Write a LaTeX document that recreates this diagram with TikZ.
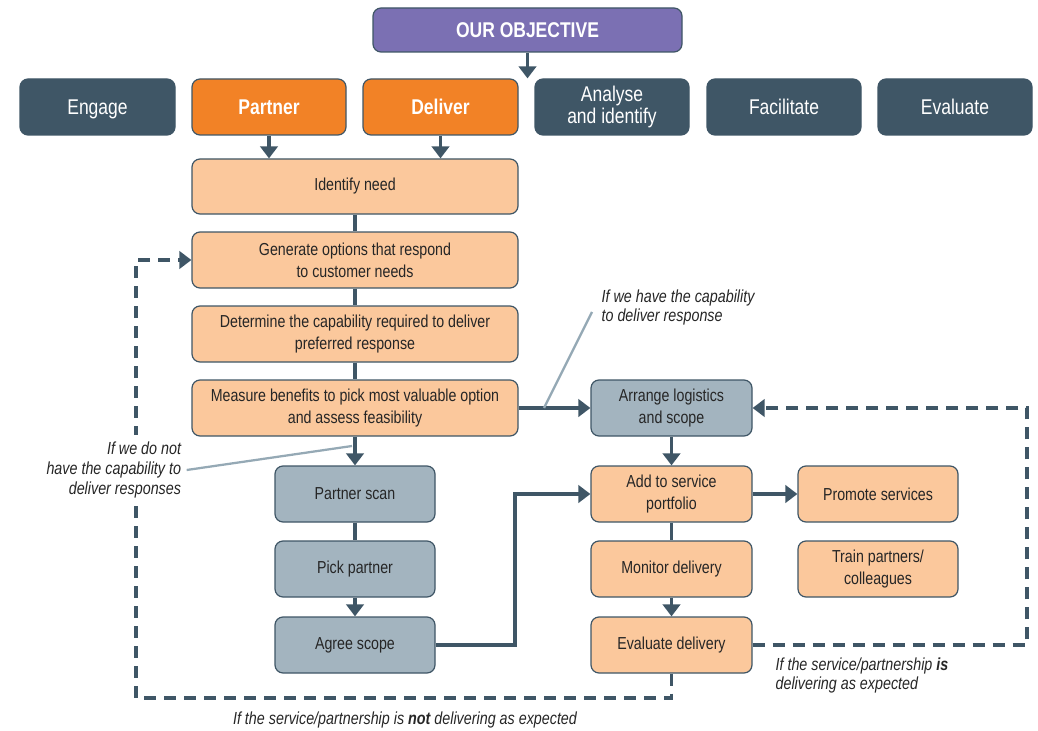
\documentclass[tikz,border=0pt]{standalone}
\usepackage{fontspec}
\setmainfont{Liberation Sans}[FakeStretch=0.82]
\usetikzlibrary{arrows.meta}
\definecolor{slate}{HTML}{3F5666}
\definecolor{purp}{HTML}{7B70B3}
\definecolor{orng}{HTML}{F28226}
\definecolor{peach}{HTML}{FBC89C}
\definecolor{greyb}{HTML}{A3B4BF}
\definecolor{lead}{HTML}{95A9B5}
\definecolor{txt}{HTML}{262626}
\tikzset{
  base/.style={rounded corners=6pt, draw=slate, line width=0.9pt, align=center, inner sep=0pt},
  objbox/.style={base, fill=purp, text=white, font=\fontsize{16}{18}\selectfont\bfseries},
  hdr/.style={base, fill=slate, text=white, font=\fontsize{16}{17}\selectfont},
  hdro/.style={base, fill=orng, text=white, font=\fontsize{16}{17}\selectfont\bfseries},
  pe/.style={base, fill=peach, text=txt, font=\fontsize{13}{16.5}\selectfont},
  gr/.style={base, fill=greyb, text=txt, font=\fontsize{13}{16.5}\selectfont},
  conn/.style={draw=slate, line width=2.4pt},
  arr/.style={conn, -{Triangle[width=13pt,length=9pt]}},
  dsh/.style={dash pattern=on 9pt off 6pt},
  leadl/.style={draw=lead, line width=1.7pt},
  lbl/.style={text=txt, font=\fontsize{13.1}{14.8}\selectfont\itshape, inner sep=1pt},
}
\newcommand\bx[7]{\node[#6, minimum width={(#4-#2)*0.75pt}, minimum height={(#5-#3)*0.75pt}] (#1) at ({(#2+#4)/2},{(#3+#5)/2}) {#7};}
\newcommand\nodepth[1]{\raisebox{0pt}[\height][0pt]{#1}}
\begin{document}
\begin{tikzpicture}[x=0.75pt,y=-0.75pt]
\useasboundingbox (0,0) rectangle (1038,731);
\bx{obj}{373}{8}{682}{52}{objbox}{OUR OBJECTIVE}
\bx{en}{20}{79}{175}{135}{hdr}{\nodepth{Engage}}
\bx{pa}{192}{79}{346}{135}{hdro}{Partner}
\bx{de}{363}{79}{518}{135}{hdro}{Deliver}
\bx{an}{535}{79}{689}{135}{hdr}{Analyse\\and identify}
\bx{fa}{707}{79}{861}{135}{hdr}{Facilitate}
\bx{ev0}{878}{79}{1032}{135}{hdr}{Evaluate}
\bx{idn}{192}{159}{518}{214}{pe}{Identify need}
\bx{gen}{192}{232}{518}{288}{pe}{Generate options that respond\\to customer needs}
\bx{det}{192}{306}{518}{362}{pe}{Determine the capability required to deliver\\preferred response}
\bx{mea}{192}{380}{518}{436}{pe}{Measure benefits to pick most valuable option\\and assess feasibility}
\bx{ps}{275}{466}{435}{522}{gr}{Partner scan}
\bx{pp}{275}{541}{435}{597}{gr}{Pick partner}
\bx{ag}{275}{617}{435}{673}{gr}{Agree scope}
\bx{arl}{591}{380}{752}{436}{gr}{Arrange logistics\\and scope}
\bx{add}{591}{466}{752}{522}{pe}{Add to service\\portfolio}
\bx{mon}{591}{541}{752}{597}{pe}{Monitor delivery}
\bx{evd}{591}{617}{752}{673}{pe}{Evaluate delivery}
\bx{pro}{798}{466}{958}{522}{pe}{Promote services}
\bx{tra}{798}{541}{958}{597}{pe}{Train partners/\\colleagues}
% connectors
\draw[arr] (obj.south) -- (obj.south |- an.north);
\draw[arr] (pa.south) -- (pa.south |- idn.north);
\draw[arr] (de.south) -- (de.south |- idn.north);
\draw[conn] (idn) -- (gen);
\draw[conn] (gen) -- (det);
\draw[conn] (det) -- (mea);
\draw[arr] (mea.south) -- (ps.north);
\draw[conn] (ps) -- (pp);
\draw[arr] (pp.south) -- (ag.north);
\coordinate (jx) at (515,0);
\draw[arr] (ag.east) -- (ag.east -| jx) -- (add.west -| jx) -- (add.west);
\draw[arr] (mea.east) -- (arl.west);
\draw[arr] (arl.south) -- (add.north);
\draw[conn] (add) -- (mon);
\draw[arr] (mon.south) -- (evd.north);
\draw[arr] (add.east) -- (pro.west);
\coordinate (rx) at (1027,0);
\draw[arr,dsh] (evd.east) -- (evd.east -| rx) -- (arl.east -| rx) -- (arl.east);
\coordinate (lx) at (136,0);
\coordinate (by) at (0,698);
\draw[arr,dsh] (evd.south) -- (evd.south |- by) -- (by -| lx) -- (gen.west -| lx) -- (gen.west);
% leader lines and labels
\coordinate (l1a) at (544,408);
\coordinate (l1b) at (592,312);
\draw[leadl] (l1a) -- (l1b);
\node[lbl, anchor=north west, align=left] (lb1) at (600,288) {If we have the capability\\to deliver response};
\node[lbl, anchor=east, align=right, fill=white, inner sep=5pt] (lb2) at (188,470) {If we do not\\have the capability to\\deliver responses};
\coordinate (l2b) at (352,446);
\draw[leadl] (lb2.east) ++(-1pt,0) coordinate (l2a) -- (l2b);
\node[lbl] (lb3) at (405,720) {If the service/partnership is \textbf{not} delivering as expected};
\node[lbl, anchor=north west, align=left] (lb4) at (774,656) {If the service/partnership \textbf{is}\\delivering as expected};
\end{tikzpicture}
\end{document}
